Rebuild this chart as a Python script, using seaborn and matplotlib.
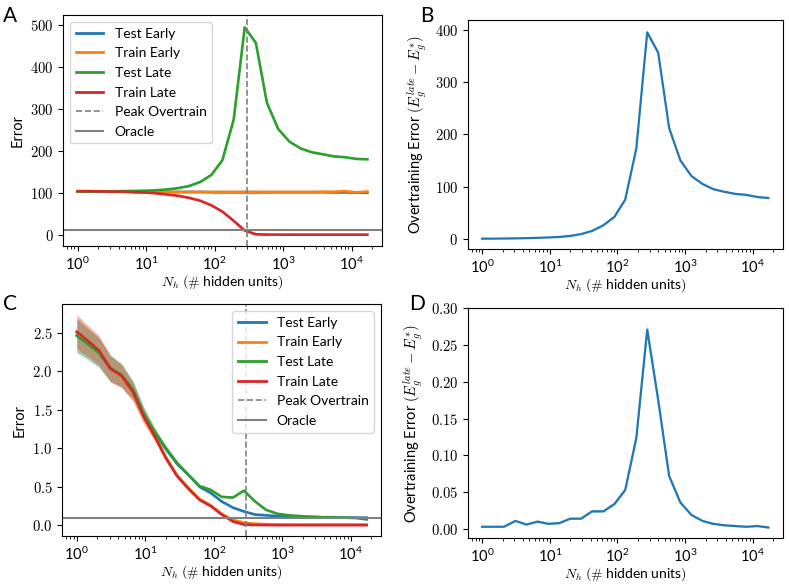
import matplotlib
matplotlib.use("Agg")
import matplotlib.pyplot as plt
from matplotlib.lines import Line2D
from matplotlib.ticker import FuncFormatter
import pandas as pd
import seaborn as sns

# hidden units (log spaced)
n_hidden = [1, 1.46, 2.1, 3.1, 4.5, 6.6, 9.5, 13.8, 20, 29, 42, 62, 90, 130, 190,
            275, 400, 580, 850, 1240, 1800, 2600, 3800, 5500, 8000, 11700, 17000]

series_names = ["Test Early", "Train Early", "Test Late", "Train Late"]
palette = ["#1f77b4", "#ff7f0e", "#2ca02c", "#d62728"]

# panel A
test_early_a = [103, 103, 103, 102.5, 102.5, 102, 102, 102, 102, 102, 102, 102, 101.5, 101.5,
                101.5, 101.5, 101.5, 101.5, 101.5, 101.5, 101.5, 101.5, 101.5, 101, 101, 100.5, 100.5]
train_early_a = [103.5, 103.5, 103, 103, 103, 102.5, 102.5, 102.5, 102, 102, 102, 102, 102, 102,
                 102, 102, 102, 102, 102, 102, 102, 102, 102.5, 102.5, 104, 101, 103]
test_late_a = [103, 103, 103, 103.5, 104, 104.5, 105, 106, 108, 111, 116, 126, 143, 178, 275,
               495, 458, 315, 252, 222, 206, 197, 192, 187, 185, 181, 180]
train_late_a = [104, 104, 103.5, 103, 102.5, 101.5, 100.5, 99, 96, 93, 88, 81, 70, 55, 33,
                10, 1, 0.3, 0.2, 0.1, 0.1, 0.1, 0.1, 0.1, 0.1, 0.1, 0.1]
spread_a = [1.5, 1.5, 1.5, 1.5, 1.5, 1.5, 1.5, 1.5, 1.5, 1.5, 1.5, 2, 2, 2.5, 3,
            4, 4, 3, 2, 2, 2, 2, 2, 2, 2, 2, 2]

# panel B
overtrain_b = [0.2, 0.3, 0.5, 0.8, 1.2, 1.8, 2.5, 3.5, 5.5, 9, 15, 26, 42, 75, 173,
               395, 356, 212, 150, 120, 105, 95, 90, 86, 84, 80, 78]
spread_b = [0.5, 0.5, 0.5, 0.5, 0.5, 0.5, 0.5, 0.5, 0.8, 1, 1, 1.5, 2, 2.5, 3,
            4, 4, 3, 2, 2, 1.5, 1.5, 1.5, 1.5, 1.5, 1.5, 1.5]

# panel C
test_early_c = [2.46, 2.35, 2.24, 2.03, 1.94, 1.75, 1.44, 1.2, 0.99, 0.8, 0.66, 0.5, 0.42, 0.31,
                0.23, 0.18, 0.14, 0.13, 0.12, 0.115, 0.11, 0.11, 0.105, 0.105, 0.1, 0.1, 0.1]
train_early_c = [2.5, 2.38, 2.27, 2.03, 1.93, 1.73, 1.4, 1.15, 0.88, 0.65, 0.49, 0.34, 0.26, 0.15,
                 0.07, 0.035, 0.02, 0.015, 0.012, 0.01, 0.01, 0.01, 0.01, 0.01, 0.01, 0.01, 0.01]
test_late_c = [2.46, 2.35, 2.24, 2.04, 1.95, 1.76, 1.45, 1.21, 1.0, 0.81, 0.66, 0.51, 0.46, 0.37,
               0.36, 0.45, 0.31, 0.2, 0.15, 0.13, 0.12, 0.11, 0.105, 0.1, 0.1, 0.095, 0.077]
train_late_c = [2.51, 2.39, 2.27, 2.03, 1.94, 1.73, 1.41, 1.15, 0.87, 0.64, 0.48, 0.33, 0.25, 0.14,
                0.05, 0.01, 0.005, 0.003, 0.002, 0.002, 0.002, 0.002, 0.002, 0.002, 0.002, 0.002, 0.002]
spread_c = [0.22, 0.2, 0.19, 0.17, 0.15, 0.12, 0.09, 0.06, 0.04, 0.03, 0.02, 0.015, 0.012, 0.01,
            0.01, 0.01, 0.008, 0.006, 0.005, 0.004, 0.004, 0.004, 0.004, 0.004, 0.004, 0.004, 0.004]

# panel D
overtrain_d = [0.003, 0.003, 0.003, 0.011, 0.006, 0.010, 0.007, 0.008, 0.014, 0.014, 0.024, 0.024,
               0.034, 0.053, 0.124, 0.271, 0.175, 0.072, 0.036, 0.019, 0.011, 0.007, 0.005,
               0.004, 0.003, 0.004, 0.002]
spread_d = [0.001, 0.001, 0.001, 0.001, 0.001, 0.001, 0.001, 0.001, 0.001, 0.001, 0.0015, 0.0015,
            0.002, 0.002, 0.004, 0.008, 0.006, 0.003, 0.002, 0.001, 0.001, 0.001, 0.001,
            0.001, 0.001, 0.001, 0.001]

peak_overtrain = 300
oracle_a = 10
oracle_c = 0.1

plt.rcParams['font.family'] = ['Lato', 'DejaVu Sans']
plt.rcParams['mathtext.fontset'] = 'cm'
plt.rcParams['xtick.labelsize'] = 10.5
plt.rcParams['ytick.labelsize'] = 10.5

xlabel = r"$N_h$ $(\#$ hidden units$)$"


def long_frame(curves):
    rows = []
    for name, vals in zip(series_names, curves):
        for x, v in zip(n_hidden, vals):
            rows.append({"N": x, "err": v, "series": name})
    return pd.DataFrame(rows)


def error_panel(ax, curves, spread, oracle, fmt, legend_loc):
    df = long_frame(curves)
    sns.lineplot(data=df, x="N", y="err", hue="series", hue_order=series_names,
                 palette=palette, lw=1.9, errorbar=None, legend=False, ax=ax)
    for vals, c in zip(curves, palette):
        ax.fill_between(n_hidden, [v - s for v, s in zip(vals, spread)],
                        [v + s for v, s in zip(vals, spread)], color=c, alpha=0.25, lw=0)
    ax.axvline(peak_overtrain, color="gray", ls="--", lw=1.2)
    ax.axhline(oracle, color="gray", lw=1.5)
    ax.set_xscale("log")
    ax.yaxis.set_major_formatter(FuncFormatter(lambda v, p: "$" + format(v, fmt) + "$"))
    ax.set_xlabel(xlabel, fontsize=10, labelpad=0)
    ax.set_ylabel("Error", fontsize=10.5)
    handles = [Line2D([], [], color=c, lw=2) for c in palette]
    handles.append(Line2D([], [], color="gray", ls="--", lw=1.2))
    handles.append(Line2D([], [], color="gray", lw=1.5))
    ax.legend(handles, series_names + ["Peak Overtrain", "Oracle"], loc=legend_loc,
              fontsize=10, labelspacing=0.55)


def overtrain_panel(ax, vals, spread, fmt):
    df = pd.DataFrame({"N": n_hidden, "err": vals})
    sns.lineplot(data=df, x="N", y="err", color="#1f77b4", lw=1.6, ax=ax)
    ax.fill_between(n_hidden, [v - s for v, s in zip(vals, spread)],
                    [v + s for v, s in zip(vals, spread)], color="#1f77b4", alpha=0.25, lw=0)
    ax.set_xscale("log")
    ax.yaxis.set_major_formatter(FuncFormatter(lambda v, p: "$" + format(v, fmt) + "$"))
    ax.set_xlabel(xlabel, fontsize=10, labelpad=0)
    ax.set_ylabel(r"Overtraining Error $(E_g^{late} - E_g^{*})$", fontsize=10.5)


fig = plt.figure(figsize=(7.89, 5.84), dpi=100)
ax_a = fig.add_axes([0.080, 0.578, 0.404, 0.396])
ax_b = fig.add_axes([0.593, 0.573, 0.399, 0.393])
ax_c = fig.add_axes([0.079, 0.082, 0.404, 0.397])
ax_d = fig.add_axes([0.593, 0.078, 0.399, 0.394])

error_panel(ax_a, [test_early_a, train_early_a, test_late_a, train_late_a], spread_a,
            oracle_a, ".0f", "upper left")
ax_a.set_yticks([0, 100, 200, 300, 400, 500])
overtrain_panel(ax_b, overtrain_b, spread_b, ".0f")
ax_b.set_yticks([0, 100, 200, 300, 400])
error_panel(ax_c, [test_early_c, train_early_c, test_late_c, train_late_c], spread_c,
            oracle_c, ".1f", "upper right")
ax_c.set_yticks([0, 0.5, 1.0, 1.5, 2.0, 2.5])
overtrain_panel(ax_d, overtrain_d, spread_d, ".2f")
ax_d.set_yticks([0, 0.05, 0.10, 0.15, 0.20, 0.25, 0.30])

for label, (x, y) in zip("ABCD", [(0.004, 0.99), (0.532, 0.99), (0.004, 0.497), (0.518, 0.497)]):
    fig.text(x, y, label, fontsize=15, va="top", ha="left")

fig.savefig("out.png", dpi=100)
